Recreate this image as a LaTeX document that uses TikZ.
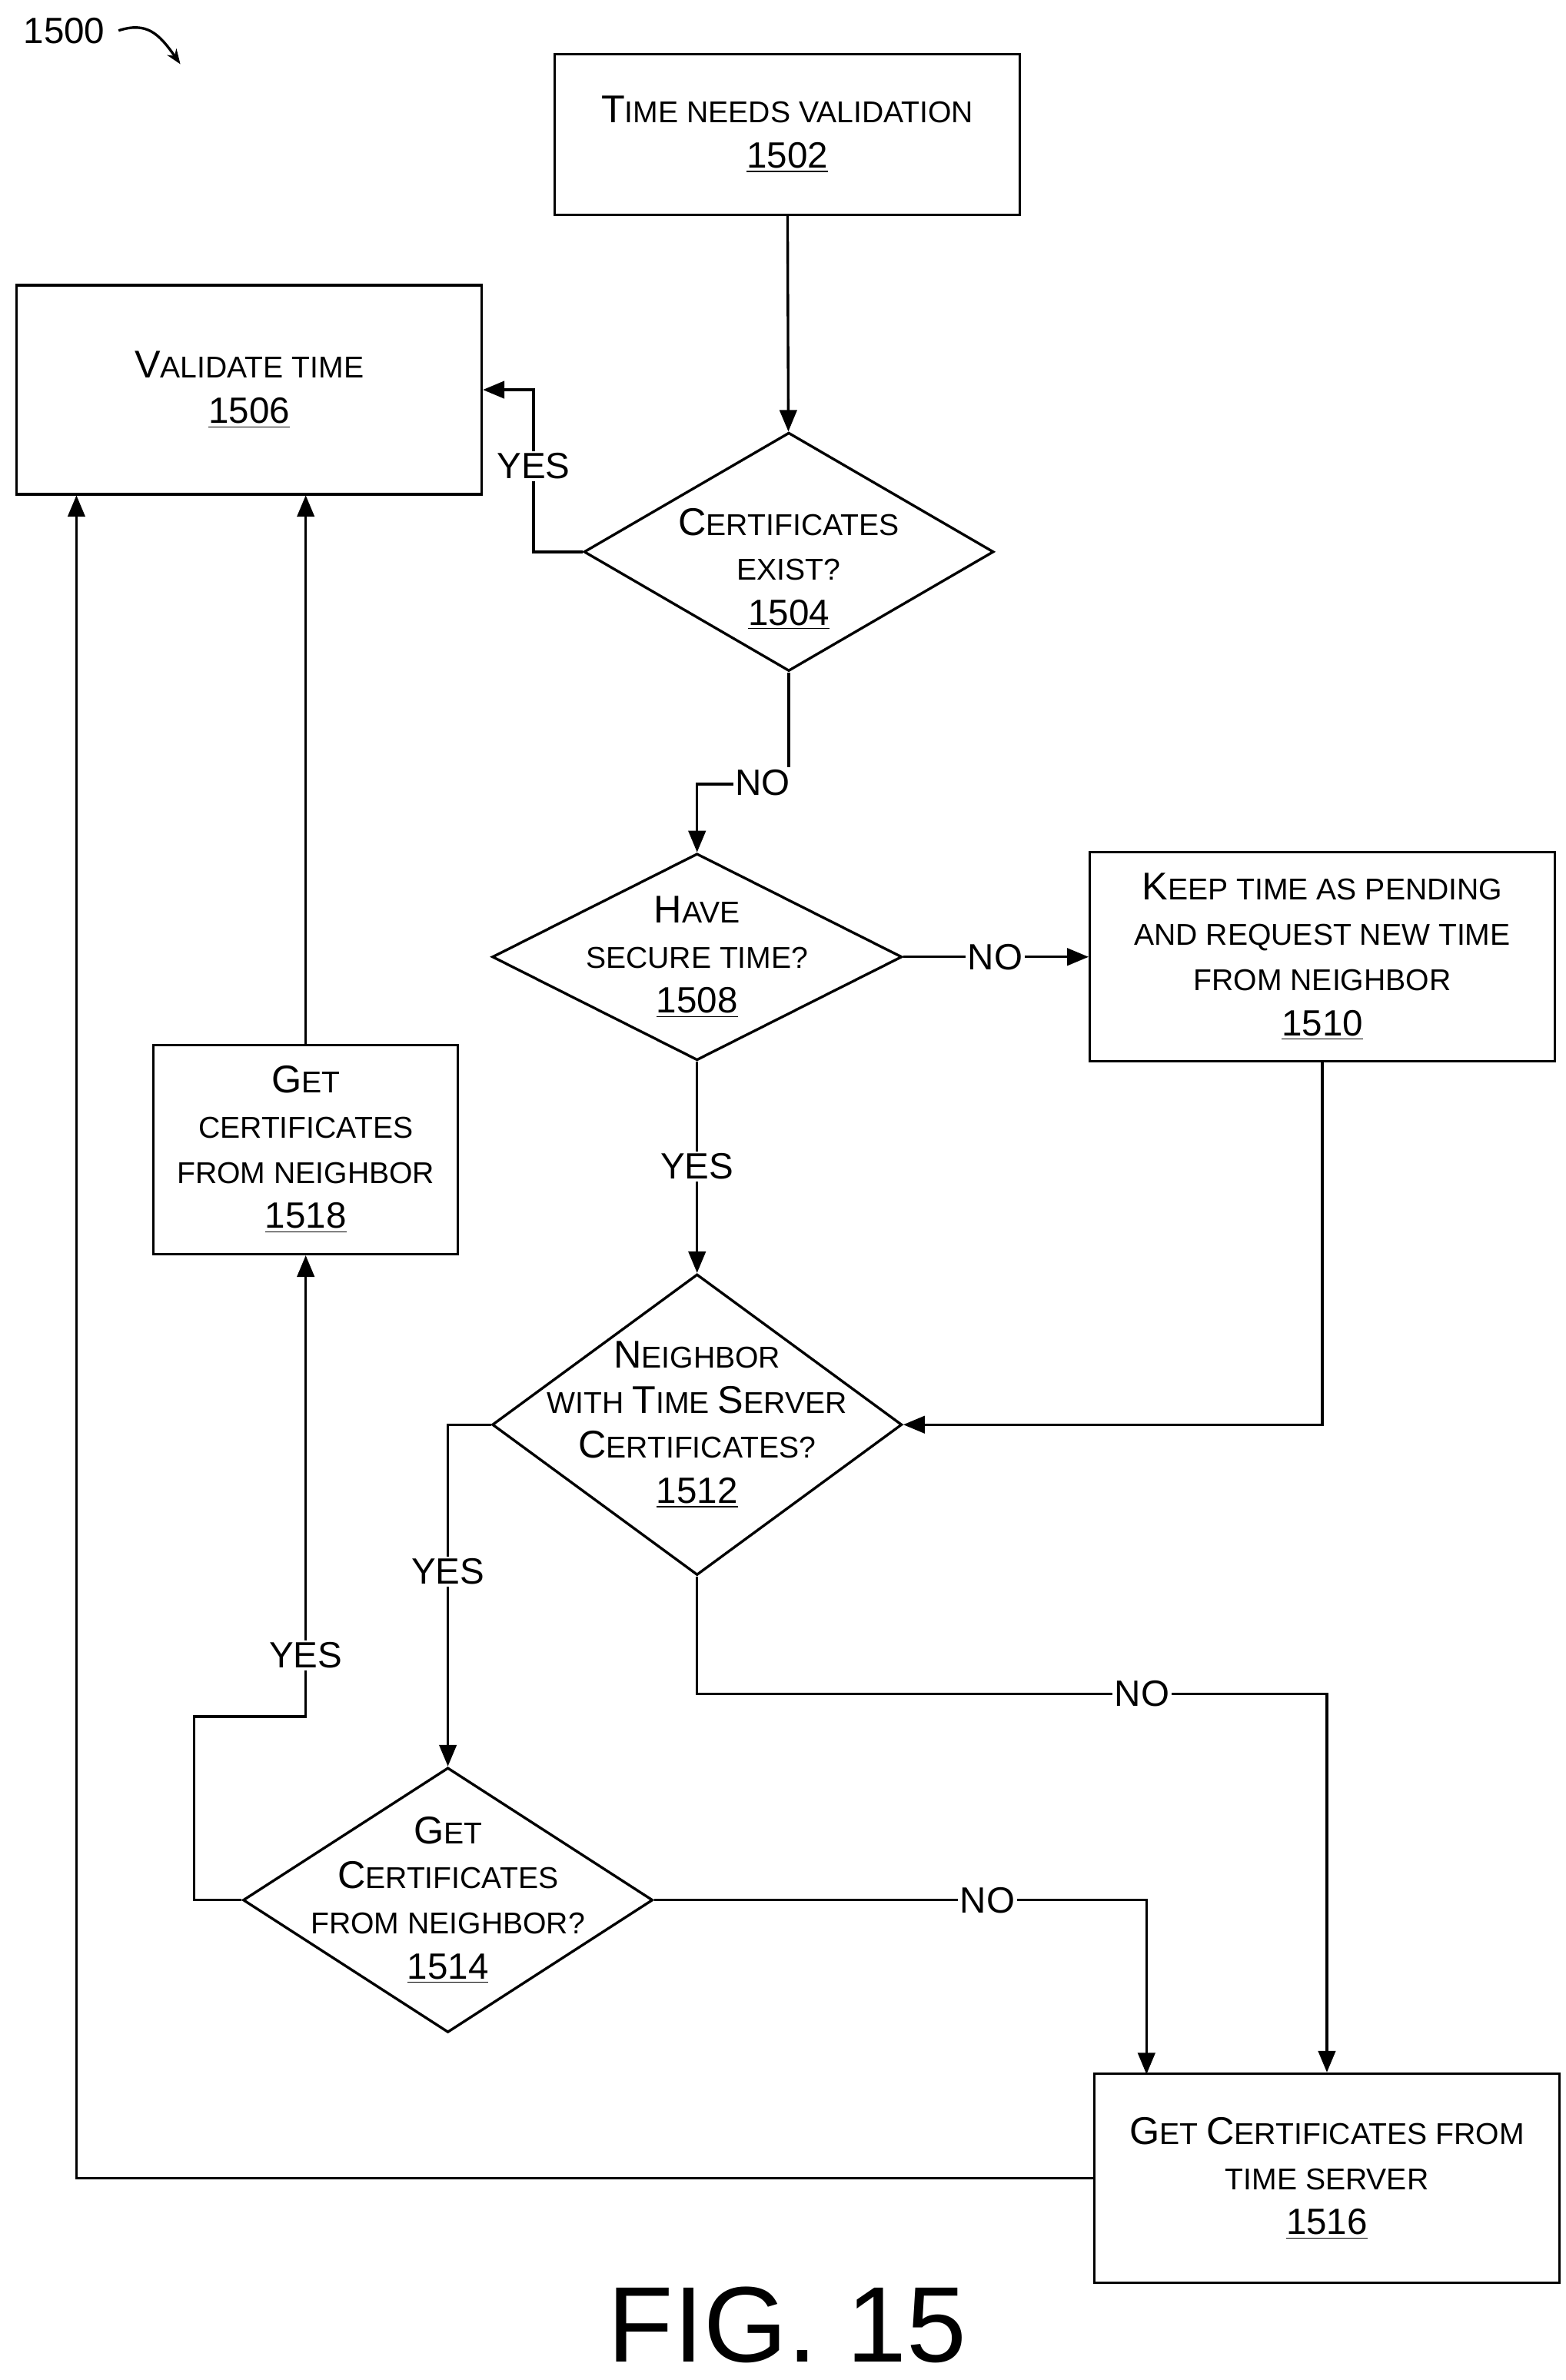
\documentclass[tikz,border=0pt]{standalone}
\usepackage{fontspec}
\setmainfont{Liberation Sans}
\usetikzlibrary{shapes.geometric,arrows.meta}
\newcommand\Cp[1]{{\fontsize{18}{21}\selectfont #1}}
\newcommand\Num[1]{{\fontsize{17}{21}\selectfont\underline{#1}}}
\tikzset{
  box/.style={draw,line width=1.2pt,minimum width=7.6cm,minimum height=3.42cm},
  dia/.style={draw,diamond,line width=1.2pt,inner sep=0pt},
  txt/.style={align=center,font=\fontsize{14}{21}\selectfont},
  lbl/.style={fill=white,inner sep=1pt,font=\fontsize{17}{20}\selectfont},
  flow/.style={line width=1.2pt,-{Triangle[length=10pt,width=8pt]}},
  line/.style={line width=1.2pt}
}
\begin{document}
\begin{tikzpicture}[x=0.025cm,y=-0.025cm]
\useasboundingbox (0,0) rectangle (1024,1557);
% boxes
\node[box,minimum height=2.62cm] (b1502) at (515,88) {};
\node[txt] at (b1502) {\Cp{T}IME NEEDS VALIDATION\\\Num{1502}};
\node[box] (b1506) at (163,255) {};
\node[txt] at (b1506) {\Cp{V}ALIDATE TIME\\\Num{1506}};
\node[box] (b1510) at (865,626) {};
\node[txt] at (b1510) {\Cp{K}EEP TIME AS PENDING\\AND REQUEST NEW TIME\\FROM NEIGHBOR\\\Num{1510}};
\node[box,minimum width=4.98cm] (b1518) at (200,752) {};
\node[txt] at (b1518) {\Cp{G}ET\\CERTIFICATES\\FROM NEIGHBOR\\\Num{1518}};
\node[box] (b1516) at (868,1425) {};
\node[txt] at (b1516) {\Cp{G}ET \Cp{C}ERTIFICATES FROM\\TIME SERVER\\\Num{1516}};
% decisions
\node[dia,minimum width=6.7cm,minimum height=3.9cm] (d1504) at (516,361) {};
\node[txt] at ([yshift=-8]d1504) {\Cp{C}ERTIFICATES\\EXIST?\\\Num{1504}};
\node[dia,minimum width=6.7cm,minimum height=3.38cm] (d1508) at (456,626) {};
\node[txt] at (d1508) {\Cp{H}AVE\\SECURE TIME?\\\Num{1508}};
\node[dia,minimum width=6.7cm,minimum height=4.92cm] (d1512) at (456,932) {};
\node[txt] at (d1512) {\Cp{N}EIGHBOR\\WITH \Cp{T}IME \Cp{S}ERVER\\\Cp{C}ERTIFICATES?\\\Num{1512}};
\node[dia,minimum width=6.7cm,minimum height=4.33cm] (d1514) at (293,1243) {};
\node[txt] at (d1514) {\Cp{G}ET\\\Cp{C}ERTIFICATES\\FROM NEIGHBOR?\\\Num{1514}};
% title
\node[font=\fontsize{17}{20}\selectfont] (n1500) at (42,20) {1500};
\coordinate (t1500) at (118,42);
\draw[line,-{Stealth[length=7pt]}] (n1500.east) ++(4,0) .. controls (96,14) and (104,22) .. (t1500);
\node[font=\fontsize{50}{50}\selectfont] (fig) at (515,1521) {FIG. 15};
% connectors
\draw[flow] (b1502) -- (d1504);
\draw[flow] (d1504.west) -| (349,255) -- (b1506.east);
\node[lbl] (y1504) at (349,305) {YES};
\draw[flow] (d1504.south) |- (456,513) -- (d1508.north);
\node[lbl] (n1504) at (499,512) {NO};
\draw[flow] (d1508.east) -- (b1510.west);
\node[lbl] (n1508) at (651,626) {NO};
\draw[flow] (d1508.south) -- (d1512.north);
\node[lbl] (y1508) at (456,763) {YES};
\draw[flow] (b1510.south) |- (d1512.east);
\draw[flow] (d1512.west) -| (d1514.north);
\node[lbl] (y1512) at (293,1028) {YES};
\draw[flow] (d1512.south) |- (868,1108) -- (b1516.north);
\node[lbl] (n1512) at (747,1108) {NO};
\draw[flow] (d1514.east) -| (750,1357);
\node[lbl] (n1514) at (646,1243) {NO};
\draw[flow] (d1514.west) -| (127,1123) -| (b1518.south);
\node[lbl] (y1514) at (200,1083) {YES};
\draw[flow] (b1518.north) -- (200,324);
\draw[flow] (b1516.west) -| (50,324);
\end{tikzpicture}
\end{document}
